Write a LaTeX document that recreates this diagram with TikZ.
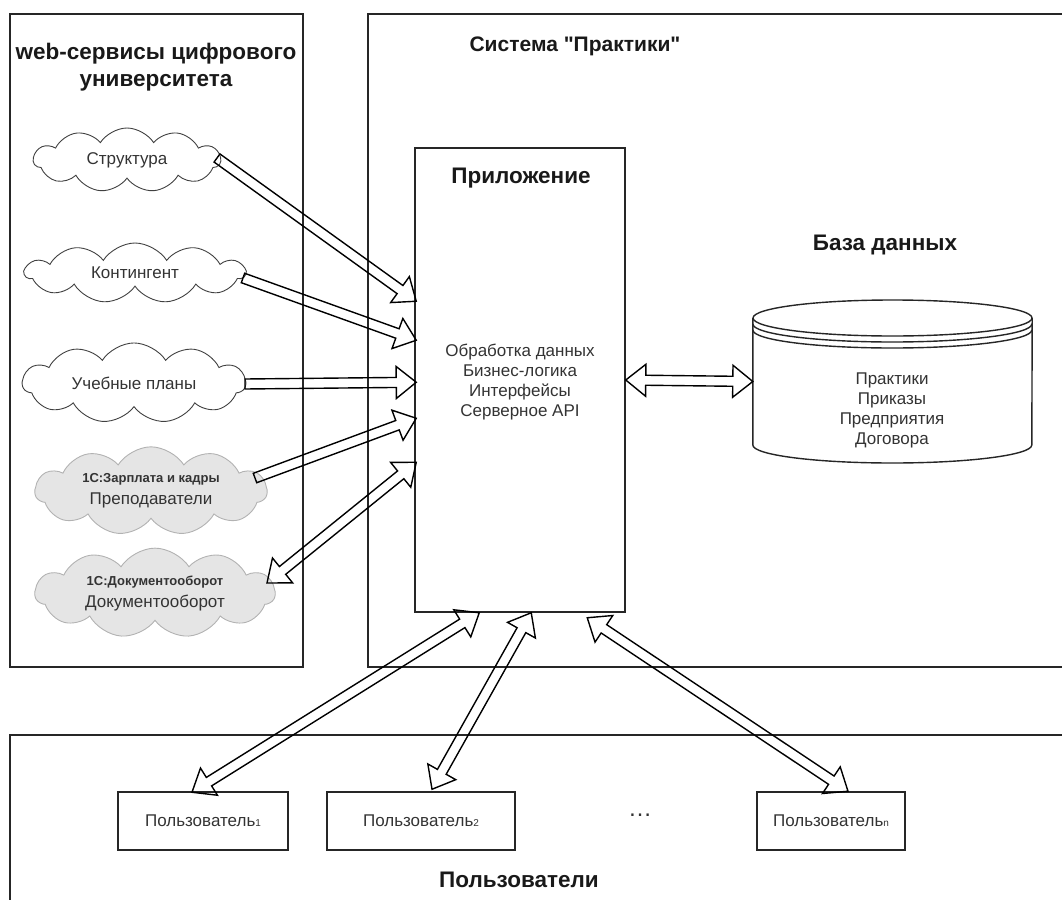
\documentclass[tikz,border=0pt]{standalone}
\usepackage{fontspec}
\newfontfamily\diagfont{Liberation Sans}
\usetikzlibrary{shapes.symbols,calc}

% block arrow with an open head, from #1 to #2
\newcommand{\blockarrow}[2]{%
  \coordinate (ba-h) at ($(#2)!20pt!(#1)$);
  \draw[blockarr] ($(#1)!5pt!90:(#2)$) -- ($(ba-h)!5pt!90:(#2)$) -- ($(ba-h)!16pt!90:(#2)$)
    -- (#2) -- ($(ba-h)!16pt!-90:(#2)$) -- ($(ba-h)!5pt!-90:(#2)$) -- ($(#1)!5pt!-90:(#2)$) -- cycle;}
% block arrow with heads at both ends
\newcommand{\blockarrows}[2]{%
  \coordinate (ba-t) at ($(#1)!20pt!(#2)$);
  \coordinate (ba-h) at ($(#2)!20pt!(#1)$);
  \draw[blockarr] (#1) -- ($(ba-t)!16pt!90:(#2)$) -- ($(ba-t)!5pt!90:(#2)$) -- ($(ba-h)!5pt!90:(#2)$)
    -- ($(ba-h)!16pt!90:(#2)$) -- (#2) -- ($(ba-h)!16pt!-90:(#2)$) -- ($(ba-h)!5pt!-90:(#2)$)
    -- ($(ba-t)!5pt!-90:(#2)$) -- ($(ba-t)!16pt!-90:(#2)$) -- cycle;}

\begin{document}
\begin{tikzpicture}[x=1pt,y=-1pt,
    frame/.style={draw=black!85, line width=1.5pt},
    title/.style={font=\diagfont\bfseries\fontsize{22.5}{27}\selectfont, align=center, text=black!90},
    body/.style={font=\diagfont\fontsize{17}{20}\selectfont, align=center, text=black!80},
    websvc/.style={cloud, cloud puffs=11, cloud puff arc=115, aspect=3.2, draw=black!75, line width=0.9pt,
      inner sep=0pt, body},
    onecsvc/.style={websvc, fill=black!10, draw=black!30},
    appbox/.style={draw=black!85, line width=1.5pt, minimum width=210pt, minimum height=464pt},
    userbox/.style={draw=black!85, line width=1.5pt, minimum height=58pt, body},
    blockarr/.style={draw=black, line width=1.4pt, line join=miter},
    dbline/.style={draw=black!85, line width=1.4pt}]
  \useasboundingbox (0,0) rectangle (1062,899);

  % frames
  \draw[frame] (10,14) rectangle (303,667);
  \draw[frame] (1075,14) -- (368,14) -- (368,667) -- (1075,667);
  \draw[frame] (1075,735) -- (10,735) -- (10,905);

  \node[title] (webtitle) at (156,67) {web-сервисы цифрового\\университета};
  \node[title, font=\diagfont\bfseries\fontsize{21}{25}\selectfont] (systitle) at (575,46) {Система "Практики"};
  \node[title] (usrtitle) at (519,880) {Пользователи};

  % web services
  \node[websvc, minimum width=187pt, minimum height=64pt] (struct) at (127,160) {Структура};
  \node[websvc, minimum width=220pt, minimum height=60pt] (contin) at (135,273) {Контингент};
  \node[websvc, minimum width=223pt, minimum height=61pt] (plans) at (134,383) {Учебные планы};
  \node[onecsvc, minimum width=232pt, minimum height=74pt] (salary) at (151,491)
    {{\bfseries\fontsize{13}{25}\selectfont 1С:Зарплата и кадры}\\[2pt]Преподаватели};
  \node[onecsvc, minimum width=240pt, minimum height=78pt] (docflow) at (155,593)
    {{\bfseries\fontsize{13}{25}\selectfont 1С:Документооборот}\\[2pt]Документооборот};

  % application
  \node[appbox] (app) at (520,380) {};
  \node[title] (apptitle) at (521,178) {Приложение};
  \node[body] (apptext) at (520,382) {Обработка данных\\Бизнес-логика\\Интерфейсы\\Серверное API};

  % database
  \node[minimum width=279pt, minimum height=163pt] (db) at (892.5,381.5) {};
  \node[title] (dbtitle) at (885,245) {База данных};
  \draw[dbline, fill=white] (db.west |- 0,318) -- (db.west |- 0,445)
    arc[start angle=180, end angle=360, x radius=139.5pt, y radius=18pt] -- (db.east |- 0,318);
  \draw[dbline] (892.5,318) ellipse [x radius=139.5pt, y radius=18pt];
  \draw[dbline] (db.west |- 0,324) arc[start angle=180, end angle=360, x radius=139.5pt, y radius=18pt];
  \draw[dbline] (db.west |- 0,330) arc[start angle=180, end angle=360, x radius=139.5pt, y radius=18pt];
  \node[body] (dbtext) at (892,410) {Практики\\Приказы\\Предприятия\\Договора};

  % users
  \node[userbox, minimum width=170pt] (user1) at (203,821) {Пользователь{\fontsize{10}{10}\selectfont 1}};
  \node[userbox, minimum width=188pt] (user2) at (421,821) {Пользователь{\fontsize{10}{10}\selectfont 2}};
  \node[body, font=\diagfont\fontsize{24}{24}\selectfont] (udots) at (640,815) {\dots};
  \node[userbox, minimum width=148pt] (usern) at (831,821) {Пользователь{\fontsize{10}{10}\selectfont n}};

  % arrow ends
  \coordinate (struct-out) at (217,158);
  \coordinate (contin-out) at (243,278);
  \coordinate (plans-out) at (245,384);
  \coordinate (salary-out) at (255,478);
  \coordinate (docflow-in) at (267,583);
  \coordinate (app-in1) at ($(app.north west)+(2,154)$);
  \coordinate (app-in2) at ($(app.north west)+(2,193)$);
  \coordinate (app-in3) at ($(app.north west)+(2,235)$);
  \coordinate (app-in4) at ($(app.north west)+(2,271)$);
  \coordinate (app-in5) at ($(app.north west)+(2,315)$);
  \coordinate (app-out1) at ($(app.south west)+(65,0)$);
  \coordinate (app-out2) at ($(app.south west)+(117,0)$);
  \coordinate (app-outn) at ($(app.south west)+(173,5)$);
  \coordinate (user1-in) at ($(user1.north)+(-11,1)$);
  \coordinate (user2-in) at ($(user2.north)+(11,-2)$);
  \coordinate (usern-in) at ($(usern.north)+(17,0)$);

  \blockarrow{struct-out}{app-in1}
  \blockarrow{contin-out}{app-in2}
  \blockarrow{plans-out}{app-in3}
  \blockarrow{salary-out}{app-in4}
  \blockarrows{app-in5}{docflow-in}
  \blockarrows{app.east}{db.west}
  \blockarrows{app-out1}{user1-in}
  \blockarrows{app-out2}{user2-in}
  \blockarrows{app-outn}{usern-in}
\end{tikzpicture}
\end{document}
